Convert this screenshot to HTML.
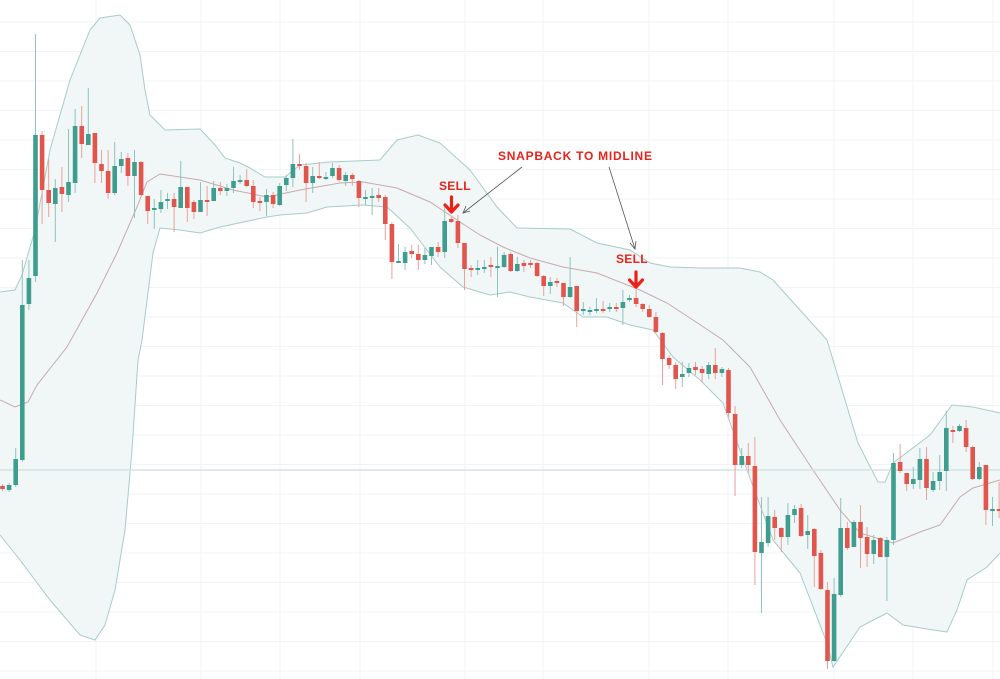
<!DOCTYPE html>
<html><head><meta charset="utf-8">
<style>
html,body{margin:0;padding:0;background:#fff;}
svg{display:block;}
text{font-family:"Liberation Sans",sans-serif;font-weight:bold;fill:#e8231b;}
</style></head>
<body>
<svg id="c" width="1000" height="679" viewBox="0 0 1000 679" xmlns="http://www.w3.org/2000/svg">
<g id="grid" stroke="#f1f4f6" stroke-width="1"></g>
<path id="band" fill="#f1f7f7" stroke="none"/>
<polyline id="up" fill="none" stroke="#a9cbca" stroke-width="1"/>
<polyline id="lo" fill="none" stroke="#a9cbca" stroke-width="1"/>
<polyline id="mid" fill="none" stroke="#c9a9aa" stroke-width="1"/>
<line x1="0" y1="470" x2="1000" y2="470" stroke="#d3e3e3" stroke-width="1.5"/>
<g id="cand"></g>
<text x="498" y="160" font-size="12" letter-spacing="0.75">SNAPBACK TO MIDLINE</text>
<text x="439" y="190" font-size="12" letter-spacing="0.3">SELL</text>
<text x="616" y="263" font-size="12" letter-spacing="0.3">SELL</text>
<g fill="none" stroke="#ee1f17" stroke-width="3.2" stroke-linecap="round" stroke-linejoin="round">
<path d="M451.5,197 V212 M445,205 L451.5,212 L458,205"/>
<path d="M636,272 V287 M629.5,280 L636,287 L642.5,280"/>
</g>
<g stroke="#555" stroke-width="0.8" fill="none">
<line x1="522" y1="167" x2="463" y2="213"/><polyline points="466,206 463,213 470,211"/>
<line x1="609" y1="167" x2="635" y2="249"/><polyline points="630,243 635,249 636,241"/>
</g>
</svg>
<script>
var up=[[0,292],[15,290],[22,275],[35,230],[50,150],[70,80],[90,30],[100,18],[120,15],[130,25],[140,55],[145,90],[150,115],[165,130],[200,129],[215,145],[225,158],[240,163],[250,168],[265,177],[285,177],[300,165],[330,162],[380,160],[397,140],[418,135],[440,143],[470,170],[497,207],[517,228],[570,229],[597,243],[630,250],[650,263],[670,267],[700,268],[740,268],[760,272],[773,280],[800,310],[827,340],[858,443],[878,482],[885,482],[893,463],[930,435],[952,405],[973,407],[1000,413]];
var lo=[[0,535],[20,560],[50,600],[80,635],[95,640],[105,625],[115,590],[125,530],[132,450],[138,360],[142,340],[153,253],[160,228],[180,230],[200,233],[220,227],[267,217],[280,215],[307,213],[327,207],[363,205],[387,207],[410,228],[423,245],[440,267],[463,287],[490,295],[510,292],[530,297],[563,303],[583,317],[607,317],[630,325],[653,330],[673,357],[700,380],[723,403],[747,470],[773,540],[800,573],[827,643],[833,667],[860,627],[887,613],[903,625],[927,629],[947,632],[957,610],[967,580],[987,567],[1000,553]];
var mid=[[0,400],[15,407],[28,402],[37,385],[67,347],[97,293],[117,253],[137,207],[147,182],[160,174],[200,180],[233,190],[267,197],[300,190],[340,183],[363,182],[397,188],[430,202],[457,220],[480,235],[503,247],[530,258],[563,267],[597,273],[640,290],[667,303],[693,320],[723,340],[750,367],[780,420],[813,470],[840,510],[860,533],[893,543],[920,532],[940,525],[960,497],[973,488],[1000,480]];
function s(a){return a.map(function(p){return p[0]+','+p[1]}).join(' ');}
document.getElementById('up').setAttribute('points',s(up));
document.getElementById('lo').setAttribute('points',s(lo));
document.getElementById('mid').setAttribute('points',s(mid));
document.getElementById('band').setAttribute('d','M'+s(up)+' L'+s(lo.slice().reverse())+' Z');
var g=document.getElementById('grid'),h='';
[96,201,280,360,465,543,649,728,834,913,993].forEach(function(x){h+='<line x1="'+x+'" y1="0" x2="'+x+'" y2="679"/>';});
for(var y=22;y<679;y+=29.5){h+='<line x1="0" y1="'+y+'" x2="1000" y2="'+y+'"/>';}
g.innerHTML=h;
var D="r486 489 484 491|g485 490 483 492|g459 485 448 487|g305 460 260 462|g278 304 260 310|g135 276 34 282|r135 190 131 224|r190 203 159 217|g188 204 179 242|r187 194 167 212|g182 195 129 202|g126 183 109 193|r126 144 106 158|g134 145 88 145|r133 163 133 183|r164 171 150 183|r171 193 150 199|g166 193 142 195|g159 166 152 173|r158 176 153 186|g162 176 150 218|r162 195 161 197|r196 211 196 224|g208 209 199 229|g202 209 190 213|g199 201 193 209|r199 207 193 232|g187 208 161 208|r187 208 187 222|r202 212 200 219|g200 212 182 212|r200 201 186 216|g188 201 181 201|r188 191 182 195|g188 191 184 196|g181 188 167 193|g180 182 175 184|r180 186 169 187|r186 202 180 208|r201 202 197 211|g195 202 189 216|r195 204 192 208|g186 205 183 206|g178 185 175 191|g164 178 139 187|r164 166 154 170|r166 183 163 202|g176 183 167 193|r176 178 162 179|g177 178 172 180|g168 176 163 178|r168 180 165 182|g175 181 172 186|r175 179 173 186|r181 198 180 207|g197 198 190 205|g196 198 188 215|r195 198 188 202|r197 224 195 240|r224 262 222 279|g261 263 244 263|g252 263 247 270|r251 254 245 258|r254 260 245 270|g255 260 248 264|g247 256 247 265|r247 252 242 257|g221 252 207 258|r219 222 217 223|r221 243 215 248|r243 269 243 290|r268 269 265 277|g268 269 260 275|g267 269 260 273|r265 267 257 277|g266 267 247 297|g255 267 252 268|r254 271 252 272|g264 271 257 272|r263 266 260 272|r263 264 260 268|r263 276 262 277|r276 286 275 296|g282 286 277 294|r281 283 278 287|r283 297 283 306|g287 297 257 298|r286 311 286 327|g309 311 302 315|g310 311 307 315|g309 311 298 313|r309 310 301 313|g307 309 303 312|r307 308 303 312|g302 308 290 325|g298 300 295 302|r298 304 290 307|r304 309 303 312|r309 317 305 318|r317 332 312 333|r333 359 332 385|r358 365 355 369|r365 379 362 389|g374 377 362 387|g368 373 363 377|r367 370 362 375|r369 373 366 383|g365 374 362 379|r365 373 348 379|g369 373 367 377|r370 413 368 417|r414 465 406 496|g456 465 448 468|r456 465 443 473|r466 552 437 585|g542 553 497 613|g516 543 497 547|r517 528 510 540|r528 537 527 552|g515 537 503 545|g509 515 505 523|r508 536 504 537|g531 535 515 549|r529 556 528 587|r553 589 550 590|r590 661 582 669|g594 661 578 662|g528 595 498 597|r528 548 522 550|g522 547 520 547|r522 538 505 568|r537 554 527 567|g540 554 535 564|r538 557 537 557|g540 557 537 601|g463 540 453 545|r462 471 444 473|r473 484 473 491|g479 484 467 489|g459 480 448 489|r459 488 447 500|g481 490 472 492|g472 481 455 490|g428 471 411 491|r430 431 426 443|g426 431 424 432|r428 447 420 452|r447 479 446 480|g467 479 462 480|r465 510 465 525|g509 511 497 526|r509 511 482 518".split('|');
var out='';
D.forEach(function(d,i){
 var c=d[0]=='g'?'#3f9d90':'#e2554c', wc=d[0]=='g'?'#8fc3bc':'#eca09b';
 var v=d.slice(1).split(' ').map(Number);
 var x=2.5+6.6*i;
 out+='<line x1="'+x+'" y1="'+v[2]+'" x2="'+x+'" y2="'+v[3]+'" stroke="'+wc+'" stroke-width="1"/>';
 var hgt=Math.max(v[1]-v[0],2);
 out+='<rect x="'+(x-2.3)+'" y="'+v[0]+'" width="4.6" height="'+hgt+'" fill="'+c+'"/>';
});
document.getElementById('cand').innerHTML=out;
</script>
</body></html>
